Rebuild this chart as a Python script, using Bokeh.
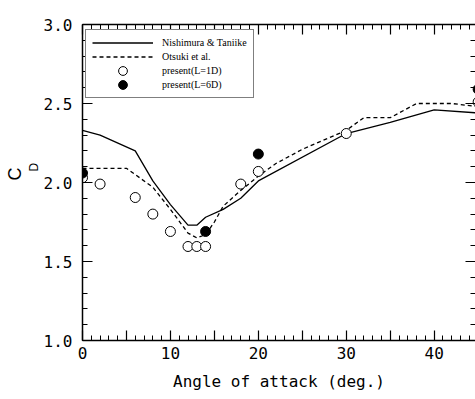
from bokeh.plotting import figure
from bokeh.models import (LinearAxis, SingleIntervalTicker, Legend, LegendItem, Title,
                          Range1d, PrintfTickFormatter)
from bokeh.embed import file_html
from bokeh.resources import INLINE

# ---- data ----
nt_angle = [0, 2, 6, 8, 10, 12, 13, 14, 16, 18, 20, 30, 35, 40, 45]
nt_cd = [2.33, 2.30, 2.20, 2.01, 1.86, 1.73, 1.73, 1.78, 1.83, 1.90, 2.01, 2.31, 2.38, 2.46, 2.44]

ot_angle = [0, 5, 8, 10, 12, 13, 14, 15, 16, 18, 20, 22, 25, 30, 32, 35, 38, 42, 45]
ot_cd = [2.09, 2.09, 1.97, 1.83, 1.68, 1.65, 1.67, 1.75, 1.85, 1.95, 2.04, 2.12, 2.21, 2.33, 2.41, 2.41, 2.50, 2.50, 2.48]

l1_angle = [0, 2, 6, 8, 10, 12, 13, 14, 18, 20, 30, 45]
l1_cd = [2.03, 1.99, 1.905, 1.80, 1.69, 1.595, 1.595, 1.595, 1.99, 2.07, 2.31, 2.51]

l6_angle = [0, 14, 20, 45]
l6_cd = [2.06, 1.69, 2.18, 2.59]

x_hidden_labels = [5, 15, 25, 35, 45]

p = figure(width=475, height=399, x_range=Range1d(0, 44.7), y_range=Range1d(1.0, 3.0),
           output_backend="svg", toolbar_location=None,
           min_border_left=82, min_border_right=0, min_border_top=24, min_border_bottom=59)
p.outline_line_color = None
p.xgrid.visible = False
p.ygrid.visible = False
p.background_fill_color = "white"
p.border_fill_color = "white"

MONO = "DejaVu Sans Mono"

def style_ticks(ax):
    ax.axis_line_color = "black"
    ax.axis_line_width = 1.5
    ax.major_tick_in = 10
    ax.major_tick_out = 0
    ax.minor_tick_in = 5
    ax.minor_tick_out = 0
    ax.major_tick_line_color = "black"
    ax.minor_tick_line_color = "black"
    ax.major_tick_line_width = 1.2
    ax.minor_tick_line_width = 1

xa = p.xaxis[0]
xa.ticker = SingleIntervalTicker(interval=5, num_minor_ticks=5)
xa.major_label_overrides = {v: "" for v in x_hidden_labels}
style_ticks(xa)
xa.major_label_text_font = MONO
xa.major_label_text_font_size = "16px"
xa.major_label_text_color = "black"
xa.major_label_standoff = 6
xa.axis_label = "Angle of attack (deg.)"
xa.axis_label_text_font = MONO
xa.axis_label_text_font_size = "16px"
xa.axis_label_text_font_style = "normal"
xa.axis_label_text_color = "black"
xa.axis_label_standoff = 10

ya = p.yaxis[0]
ya.ticker = SingleIntervalTicker(interval=0.5, num_minor_ticks=5)
ya.formatter = PrintfTickFormatter(format="%.1f")
style_ticks(ya)
ya.major_label_text_font = MONO
ya.major_label_text_font_size = "16px"
ya.major_label_text_color = "black"
ya.major_label_standoff = 10

top = LinearAxis(ticker=SingleIntervalTicker(interval=5, num_minor_ticks=5),
                 formatter=PrintfTickFormatter(format=""))
style_ticks(top)
top.major_label_text_color = None
top.major_label_standoff = 0
p.add_layout(top, "above")

right = LinearAxis(ticker=SingleIntervalTicker(interval=0.5, num_minor_ticks=5),
                   formatter=PrintfTickFormatter(format=""))
style_ticks(right)
right.axis_line_color = None
right.major_label_text_color = None
right.major_label_standoff = 0
p.add_layout(right, "right")

r_nt = p.line(nt_angle, nt_cd, line_color="black", line_width=1.3)
r_ot = p.line(ot_angle, ot_cd, line_color="black", line_width=1.3, line_dash="4 3")
r_l1 = p.ellipse(l1_angle, l1_cd, width=10, height=10, width_units="screen",
                 height_units="screen", fill_color="white", line_color="black", line_width=1)
r_l6 = p.ellipse(l6_angle, l6_cd, width=10, height=10, width_units="screen",
                 height_units="screen", fill_color="black", line_color="black", line_width=1)

legend = Legend(items=[
    LegendItem(label="Nishimura & Taniike", renderers=[r_nt]),
    LegendItem(label="Otsuki et al.", renderers=[r_ot]),
    LegendItem(label="present(L=1D)", renderers=[r_l1]),
    LegendItem(label="present(L=6D)", renderers=[r_l6]),
], location=(3, 242))
legend.margin = 0
legend.padding = 6
legend.spacing = 1
legend.glyph_width = 61
legend.glyph_height = 11
legend.label_standoff = 9
legend.label_height = 13
legend.label_text_font = "Liberation Serif"
legend.label_text_font_size = "10px"
legend.label_text_color = "black"
legend.border_line_color = "black"
legend.border_line_width = 1.2
legend.background_fill_color = "white"
legend.background_fill_alpha = 1
p.add_layout(legend, "center")

# y-axis label C with subscript D, as two vertical titles in the left panel
t_d = Title(text="D", align="left", offset=169, standoff=0,
            text_font="Liberation Sans", text_font_size="12px", text_line_height=0.7,
            text_font_style="normal", text_color="black")
t_c = Title(text="C", align="left", offset=160, standoff=0,
            text_font="Liberation Sans", text_font_size="18px",
            text_font_style="normal", text_color="black")
p.add_layout(t_d, "left")
p.add_layout(t_c, "left")

open("out.html", "w").write(file_html(p, INLINE))
